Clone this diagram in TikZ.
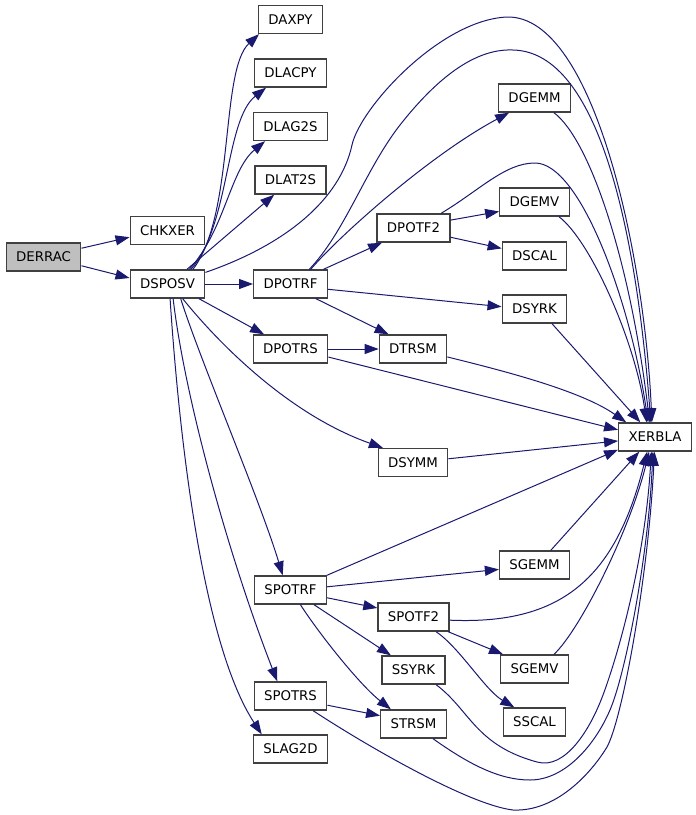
\documentclass[tikz,border=0pt]{standalone}
\usepackage{fontspec}
\setmainfont{DejaVu Sans}
\usetikzlibrary{arrows.meta}
\definecolor{edgeblue}{HTML}{191970}
\definecolor{boxline}{HTML}{404040}
\definecolor{rootfill}{HTML}{BFBFBF}

\begin{document}
\begin{tikzpicture}[x=0.75pt,y=-0.75pt, >={Triangle[length=10.5pt,width=7.5pt]},
        fn/.style={draw=boxline,line width=1pt,rectangle,minimum height=21pt,
            inner xsep=7.4pt,inner ysep=0pt,font=\fontsize{10}{12}\selectfont},
        call/.style={->,draw=edgeblue,line width=0.75pt}]
                \useasboundingbox (0,0) rectangle (696,815);
                % routines
                \node[fn,fill=rootfill] (DERRAC) at (43.5,257) {DERRAC};
                \node[fn] (CHKXER) at (167.5,230.5) {CHKXER};
                \node[fn] (DSPOSV) at (167.5,284) {DSPOSV};
                \node[fn] (DAXPY) at (290.5,19.5) {DAXPY};
                \node[fn] (DLACPY) at (290.5,73) {DLACPY};
                \node[fn] (DLAG2S) at (290.5,126.5) {DLAG2S};
                \node[fn] (DLAT2S) at (290.5,180) {DLAT2S};
                \node[fn] (DPOTRF) at (290.5,284) {DPOTRF};
                \node[fn] (DPOTRS) at (290.5,349) {DPOTRS};
                \node[fn] (SPOTRF) at (290.5,590) {SPOTRF};
                \node[fn] (SPOTRS) at (290.5,696) {SPOTRS};
                \node[fn] (SLAG2D) at (290.5,749) {SLAG2D};
                \node[fn] (DPOTF2) at (413.5,228) {DPOTF2};
                \node[fn] (DTRSM) at (413,349) {DTRSM};
                \node[fn] (DSYMM) at (413,462.5) {DSYMM};
                \node[fn] (SPOTF2) at (413.5,617) {SPOTF2};
                \node[fn] (SSYRK) at (413.5,670) {SSYRK};
                \node[fn] (STRSM) at (413.5,724) {STRSM};
                \node[fn] (DGEMM) at (534.5,98) {DGEMM};
                \node[fn] (DGEMV) at (534.5,202) {DGEMV};
                \node[fn] (DSCAL) at (534.5,256) {DSCAL};
                \node[fn] (DSYRK) at (534.5,309) {DSYRK};
                \node[fn] (SGEMM) at (534.5,565) {SGEMM};
                \node[fn] (SGEMV) at (534.5,669) {SGEMV};
                \node[fn] (SSCAL) at (534.5,722) {SSCAL};
                \node[fn] (XERBLA) at (655,437) {XERBLA};
                % calls
                \draw[call] (DERRAC.13) -- (CHKXER.190);
                \draw[call] (DERRAC.-13) -- (DSPOSV.171);
                \draw[call] (DSPOSV.30) .. controls (235,215) and (220,70) .. (DAXPY.205);
                \draw[call] (DSPOSV.32) .. controls (230,225) and (225,120) .. (DLACPY.211);
                \draw[call] (DSPOSV.34) .. controls (225,230) and (230,170) .. (DLAG2S.210);
                \draw[call] (DSPOSV.37) -- (DLAT2S.222);
                \draw[call] (DSPOSV.17) .. controls (285,245) and (340,200) .. (352,145)
                    .. controls (360,108) and (440,20) .. (507,17)
                    .. controls (595,15) and (645,260) .. (XERBLA.102);
                \draw[call] (DSPOSV) -- (DPOTRF);
                \draw[call] (DSPOSV.-25) -- (DPOTRS.151);
                \draw[call] (DSPOSV.-44) .. controls (220,345) and (290,415) .. (DSYMM.154);
                \draw[call] (DSPOSV.-48) .. controls (200,360) and (260,500) .. (SPOTRF.118);
                \draw[call] (DSPOSV.-69) .. controls (185,400) and (230,560) .. (SPOTRS.132);
                \draw[call] (DSPOSV.-80) .. controls (178,420) and (200,640) .. (SLAG2D.153);
                \draw[call] (DPOTRF.24) -- (DPOTF2.205);
                \draw[call] (DPOTRF.36) .. controls (340,235) and (430,155) .. (DGEMM.210);
                \draw[call] (DPOTRF.38) .. controls (345,232) and (365,170) .. (400,125)
                    .. controls (430,87) and (470,48) .. (513,50)
                    .. controls (610,52) and (640,280) .. (XERBLA.106);
                \draw[call] (DPOTRF.-8) -- (DSYRK.176);
                \draw[call] (DPOTRF.-30) -- (DTRSM.149);
                \draw[call] (DPOTRS) -- (DTRSM);
                \draw[call] (DPOTRS.-12) -- (XERBLA.169);
                \draw[call] (DPOTF2.12) -- (DGEMV.195);
                \draw[call] (DPOTF2.-14) -- (DSCAL.167);
                \draw[call] (DPOTF2.28) .. controls (480,190) and (505,163) .. (535,163)
                    .. controls (580,163) and (630,300) .. (XERBLA.115);
                \draw[call] (DGEMM.-37) .. controls (590,140) and (630,260) .. (XERBLA.110);
                \draw[call] (DGEMV.-31) .. controls (590,240) and (635,340) .. (XERBLA.120);
                \draw[call] (DSYRK.-40) -- (XERBLA.135);
                \draw[call] (DTRSM.-13) .. controls (500,370) and (580,390) .. (XERBLA.153);
                \draw[call] (DSYMM.6) -- (XERBLA.186);
                \draw[call] (SPOTRF.22) -- (XERBLA.199);
                \draw[call] (SPOTRF.5) -- (SGEMM.187);
                \draw[call] (SPOTRF.-12) -- (SPOTF2.166);
                \draw[call] (SPOTRF.-32) -- (SSYRK.147);
                \draw[call] (SPOTRF.-56) .. controls (320,635) and (360,685) .. (STRSM.147);
                \draw[call] (SPOTF2.-5) .. controls (560,625) and (615,580) .. (XERBLA.242);
                \draw[call] (SPOTF2.-23) -- (SGEMV.155);
                \draw[call] (SPOTF2.-33) .. controls (460,648) and (485,690) .. (SSCAL.144);
                \draw[call] (SGEMM.42) -- (XERBLA.223);
                \draw[call] (SGEMV.37) .. controls (580,630) and (630,530) .. (XERBLA.248);
                \draw[call] (SSYRK.-33) .. controls (470,710) and (475,745) .. (537,762)
                    .. controls (565,770) and (590,730) .. (603,695)
                    .. controls (618,655) and (645,560) .. (XERBLA.256);
                \draw[call] (STRSM.-37) .. controls (470,765) and (500,780) .. (530,780)
                    .. controls (565,780) and (595,745) .. (610,710)
                    .. controls (625,675) and (648,560) .. (XERBLA.262);
                \draw[call] (SPOTRS.-14) -- (STRSM.166);
                \draw[call] (SPOTRS.-33) .. controls (370,748) and (470,805) .. (513,810)
                    .. controls (555,812) and (590,775) .. (607,747)
                    .. controls (622,720) and (648,580) .. (XERBLA.268);
\end{tikzpicture}
\end{document}
